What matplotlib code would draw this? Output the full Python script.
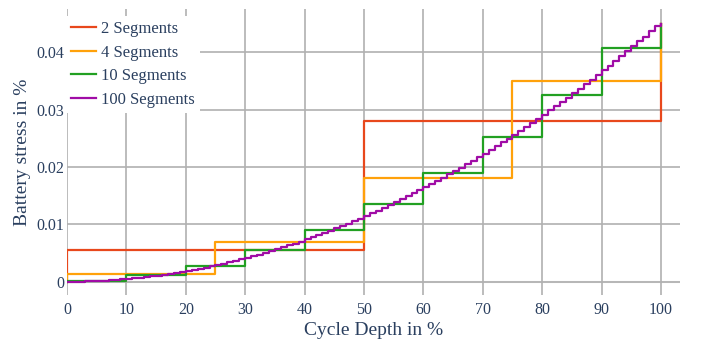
import matplotlib.pyplot as plt

# segment boundaries (cycle depth in %) and step values (battery stress in %)
x_2 = [0, 0, 50, 100]
y_2 = [0, 0.0056, 0.0281, 0.045]

x_4 = [0, 0, 25, 50, 75, 100]
y_4 = [0, 0.0014, 0.0069, 0.0181, 0.0351, 0.045]

x_10 = [0, 0, 10, 20, 30, 40, 50, 60, 70, 80, 90, 100]
y_10 = [0, 0.0002, 0.0011, 0.0028, 0.0055, 0.0090, 0.0135, 0.0190,
        0.0253, 0.0325, 0.0407, 0.045]

x_100 = [0] + list(range(0, 101))
y_100 = [0,
         0.00000, 0.00001, 0.00003, 0.00006, 0.00009, 0.00014, 0.00019, 0.00025, 0.00033, 0.00041,
         0.00050, 0.00060, 0.00070, 0.00082, 0.00095, 0.00108, 0.00123, 0.00138, 0.00154, 0.00171,
         0.00189, 0.00208, 0.00228, 0.00249, 0.00270, 0.00293, 0.00316, 0.00340, 0.00366, 0.00392,
         0.00419, 0.00447, 0.00475, 0.00505, 0.00536, 0.00567, 0.00600, 0.00633, 0.00667, 0.00702,
         0.00738, 0.00775, 0.00813, 0.00852, 0.00891, 0.00932, 0.00973, 0.01015, 0.01059, 0.01103,
         0.01148, 0.01194, 0.01240, 0.01288, 0.01337, 0.01386, 0.01437, 0.01488, 0.01540, 0.01593,
         0.01647, 0.01702, 0.01758, 0.01815, 0.01872, 0.01931, 0.01990, 0.02050, 0.02112, 0.02174,
         0.02237, 0.02301, 0.02365, 0.02431, 0.02498, 0.02565, 0.02634, 0.02703, 0.02773, 0.02844,
         0.02916, 0.02989, 0.03063, 0.03138, 0.03213, 0.03290, 0.03367, 0.03445, 0.03525, 0.03605,
         0.03686, 0.03768, 0.03850, 0.03934, 0.04019, 0.04104, 0.04191, 0.04278, 0.04366, 0.04455,
         0.045]

series = [
    ('2 Segments', x_2, y_2, '#e8481c'),
    ('4 Segments', x_4, y_4, '#ffa10a'),
    ('10 Segments', x_10, y_10, '#22a022'),
    ('100 Segments', x_100, y_100, '#a00ca6'),
]

plt.rcParams['font.family'] = ['Liberation Serif', 'DejaVu Serif']
text_color = '#2a3f5f'

fig = plt.figure(figsize=(7.09, 3.41), dpi=100)
ax = fig.add_axes([0.0945, 0.135, 0.8646, 0.839])

for name, xs, ys, col in series:
    ax.plot(xs, ys, drawstyle='steps-post', color=col, lw=1.6, label=name, zorder=3)

ax.set_xlim(0, 103.2)
ax.set_ylim(-0.0023, 0.0476)
ax.set_xticks(range(0, 101, 10))
ax.set_yticks([0, 0.01, 0.02, 0.03, 0.04])
ax.set_yticklabels(['0', '0.01', '0.02', '0.03', '0.04'])

ax.grid(True, color='#b0b0b0', lw=1.2, zorder=0)
ax.axhline(0, color='#dcdcdc', lw=1.5, zorder=1)
for s in ax.spines.values():
    s.set_visible(False)
ax.tick_params(axis='y', length=0, labelsize=11.5, colors=text_color, pad=2)
ax.tick_params(axis='x', length=0, labelsize=11.5, colors=text_color, pad=5)

ax.set_xlabel('Cycle Depth in %', fontsize=14, color=text_color, labelpad=3)
ax.set_ylabel('Battery stress in %', fontsize=14, color=text_color, labelpad=4)

leg = ax.legend(loc='upper left', bbox_to_anchor=(-0.002, 0.975), fontsize=12,
                frameon=True, fancybox=False, edgecolor='none', framealpha=1,
                handlelength=1.5, handletextpad=0.3, labelspacing=0.45,
                borderpad=0.3, borderaxespad=0)
for t in leg.get_texts():
    t.set_color(text_color)

plt.savefig('out.png', dpi=100)
